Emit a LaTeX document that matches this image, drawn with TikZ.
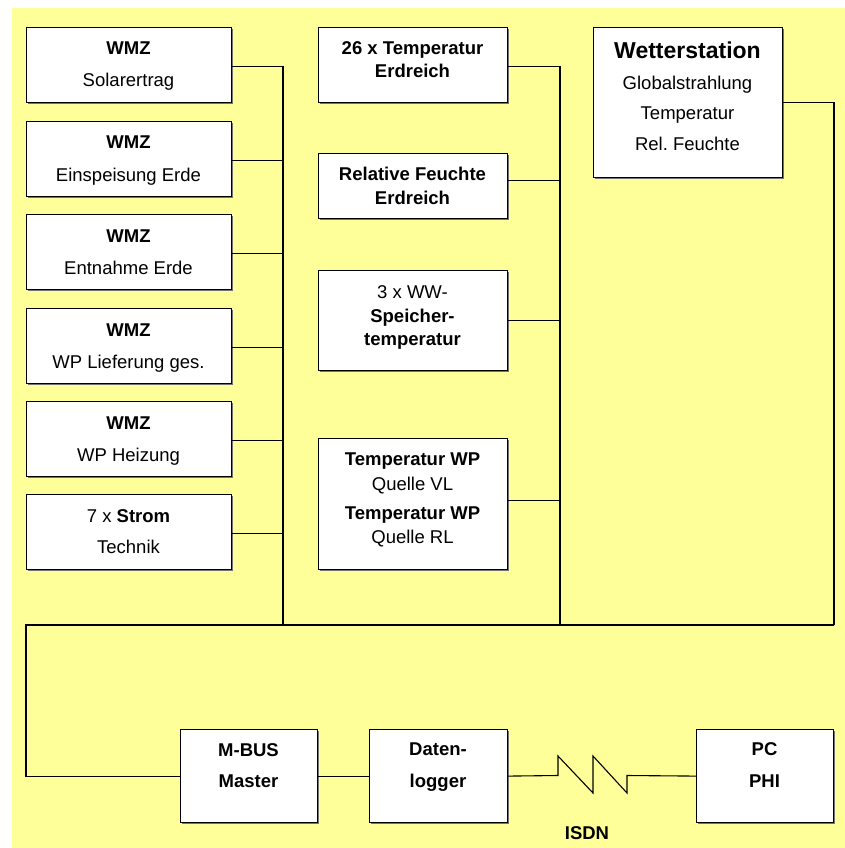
\documentclass[tikz,border=0pt]{standalone}
\usepackage{fontspec}
\setmainfont{Liberation Sans}
\usetikzlibrary{shadows}
\definecolor{bgyellow}{HTML}{FFFF99}
\begin{document}
\begin{tikzpicture}[x=1pt,y=-1pt,
  box/.style={draw=black, line width=1.2pt, fill=white, rectangle, inner sep=0pt, anchor=north west,
    drop shadow={shadow xshift=1pt, shadow yshift=-1pt, fill=black!55, opacity=1}},
  txt/.style={inner sep=0pt, anchor=base, font=\fontsize{18.5}{20}\selectfont},
  btxt/.style={inner sep=0pt, anchor=base, font=\fontsize{18.5}{20}\selectfont\bfseries},
  big/.style={inner sep=0pt, anchor=base, font=\fontsize{23}{26}\selectfont\bfseries},
  wire/.style={draw=black, line width=1.1pt}]
\useasboundingbox (0,0) rectangle (845,848);
\fill[white] (0,0) rectangle (845,848);
\fill[bgyellow] (12,8) rectangle (845,848);

% left column
\node[box, minimum width=205pt, minimum height=75pt] (w1) at (26,27) {};
\node[box, minimum width=205pt, minimum height=75pt] (w2) at (26,121) {};
\node[box, minimum width=205pt, minimum height=75pt] (w3) at (26,214) {};
\node[box, minimum width=205pt, minimum height=75pt] (w4) at (26,308) {};
\node[box, minimum width=205pt, minimum height=75pt] (w5) at (26,401) {};
\node[box, minimum width=205pt, minimum height=75pt] (w6) at (26,494) {};
\node[btxt] (w1a) at (128.5,55) {WMZ};
\node[txt]  (w1b) at (128.5,87) {Solarertrag};
\node[btxt] (w2a) at (128.5,149) {WMZ};
\node[txt]  (w2b) at (128.5,181) {Einspeisung Erde};
\node[btxt] (w3a) at (128.5,242) {WMZ};
\node[txt]  (w3b) at (128.5,274) {Entnahme Erde};
\node[btxt] (w4a) at (128.5,336) {WMZ};
\node[txt]  (w4b) at (128.5,368) {WP Lieferung ges.};
\node[btxt] (w5a) at (128.5,429) {WMZ};
\node[txt]  (w5b) at (128.5,461) {WP Heizung};
\node[txt]  (w6a) at (128.5,522) {7 x \textbf{Strom}};
\node[txt]  (w6b) at (128.5,553) {Technik};

% middle column
\node[box, minimum width=189pt, minimum height=75pt] (m1) at (318,27) {};
\node[box, minimum width=189pt, minimum height=65pt] (m2) at (318,153) {};
\node[box, minimum width=189pt, minimum height=100pt] (m3) at (318,270) {};
\node[box, minimum width=189pt, minimum height=131pt] (m4) at (318,438) {};
\node[btxt] (m1a) at (412.5,55) {26 x Temperatur};
\node[btxt] (m1b) at (412.5,78) {Erdreich};
\node[btxt] (m2a) at (412.5,180) {Relative Feuchte};
\node[btxt] (m2b) at (412.5,204) {Erdreich};
\node[txt]  (m3a) at (412.5,298) {3 x WW-};
\node[btxt] (m3b) at (412.5,322) {Speicher-};
\node[btxt] (m3c) at (412.5,345) {temperatur};
\node[btxt] (m4a) at (412.5,465) {Temperatur WP};
\node[txt]  (m4b) at (412.5,490) {Quelle VL};
\node[btxt] (m4c) at (412.5,519) {Temperatur WP};
\node[txt]  (m4d) at (412.5,543) {Quelle RL};

% weather station
\node[box, minimum width=189pt, minimum height=150pt] (ws) at (593,27) {};
\node[big] (wsa) at (687.5,59) {Wetterstation};
\node[txt] (wsb) at (687.5,90) {Globalstrahlung};
\node[txt] (wsc) at (687.5,120) {Temperatur};
\node[txt] (wsd) at (687.5,150) {Rel.\ Feuchte};

% bottom row
\node[box, minimum width=137pt, minimum height=93pt] (mb) at (180,729) {};
\node[box, minimum width=138pt, minimum height=93pt] (dl) at (369,729) {};
\node[box, minimum width=137pt, minimum height=93pt] (pc) at (696,729) {};
\node[btxt] (mba) at (248.5,756) {M-BUS};
\node[btxt] (mbb) at (248.5,787) {Master};
\node[btxt] (dla) at (438,755) {Daten-};
\node[btxt] (dlb) at (438,787) {logger};
\node[btxt] (pca) at (764.5,755) {PC};
\node[btxt] (pcb) at (764.5,787) {PHI};
\node[btxt] (isdn) at (587,839) {ISDN};

% bus coordinates
\coordinate (lbus) at (283,625);
\coordinate (mbus) at (560,625);
\coordinate (rbus) at (834,625);
\coordinate (lcorner) at (26,625);

% left bus
\foreach \b in {w1,w2,w3,w4,w5,w6}{
  \draw[wire] ([yshift=-1pt]\b.east) -- ([yshift=-1pt]\b.east -| lbus);
}
\draw[wire] ([yshift=-1pt]w1.east -| lbus) -- (lbus);

% middle bus
\draw[wire] ([yshift=-1.5pt]m1.east) -- ([yshift=-1.5pt]m1.east -| mbus) -- (mbus);
\draw[wire] ([yshift=5.5pt]m2.east) -- ([yshift=5.5pt]m2.east -| mbus);
\draw[wire] (m3.east) -- (m3.east -| mbus);
\draw[wire] ([yshift=3.5pt]m4.east) -- ([yshift=3.5pt]m4.east -| mbus);

% right bus
\draw[wire] (ws.east) -- (ws.east -| rbus) -- (rbus);

% main horizontal bus and link to master
\draw[wire] (rbus) -- (lcorner) |- (mb.west);
\draw[wire] (mb.east) -- (dl.west);

% ISDN zigzag
\coordinate (z1) at (558,775.5);
\coordinate (z2) at (558,756);
\coordinate (z3) at (593,793);
\coordinate (z4) at (593,756);
\coordinate (z5) at (627,793);
\coordinate (z6) at (627,775.5);
\draw[wire, line join=miter] (dl.east) -- (z1) -- (z2) -- (z3) -- (z4) -- (z5) -- (z6) -- (pc.west);
\end{tikzpicture}
\end{document}
